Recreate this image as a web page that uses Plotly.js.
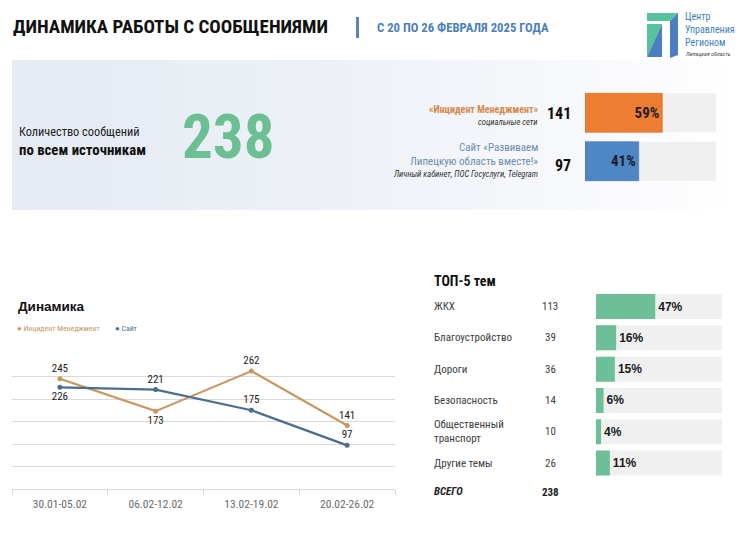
<!DOCTYPE html>
<html>
<head>
<meta charset="utf-8">
<script src="https://cdn.plot.ly/plotly-3.0.1.min.js"></script>
<style>
html,body{margin:0;padding:0;background:#fff;}
#chart{width:746px;height:559px;}
</style>
</head>
<body>
<div id="chart"></div>
<script>
// ---------- DATA ----------
const reportTitle = 'ДИНАМИКА РАБОТЫ С СООБЩЕНИЯМИ';
const reportPeriod = 'С 20 ПО 26 ФЕВРАЛЯ 2025 ГОДА';
const totalMessages = 238;

const sourceKeys = ['Инцидент Менеджмент', 'Сайт'];
const sourceTitles = ['«Инцидент Менеджмент»', 'Сайт «Развиваем<br>Липецкую область вместе!»'];
const sourceSubtitles = ['социальные сети', 'Личный кабинет, ПОС Госуслуги, Telegram'];
const sourceCounts = [141, 97];
const sourcePct = [59, 41];

const weeks = ['30.01-05.02', '06.02-12.02', '13.02-19.02', '20.02-26.02'];
const incidentSeries = [245, 173, 262, 141];
const siteSeries = [226, 221, 175, 97];

const topicNames = ['ЖКХ', 'Благоустройство', 'Дороги', 'Безопасность', 'Общественный<br>транспорт', 'Другие темы'];
const topicCounts = [113, 39, 36, 14, 10, 26];
const topicPct = [47, 16, 15, 6, 4, 11];

// ---------- HELPERS ----------
const W = 746, H = 559;
const NARROW = '"Liberation Sans Narrow", "Arial Narrow", "Roboto Condensed", sans-serif';
const SANS = '"Liberation Sans", Arial, sans-serif';
function px(x) { return x / W; }
function py(y) { return 1 - y / H; }
function ann(text, x, y, size, color, o) {
  o = o || {};
  return {
    text: text, x: px(x), y: o.yref ? o.yv : py(y),
    xref: 'paper', yref: o.yref || 'paper', showarrow: false,
    xanchor: o.xa || 'left', yanchor: o.ya || 'middle', align: o.align || (o.xa || 'left'),
    yshift: o.ys || 0,
    font: { family: o.family || NARROW, size: size, color: color, weight: o.weight || 'normal', style: o.style || 'normal' }
  };
}
function polyPath(pts) {
  return 'M' + pts.map(p => px(p[0]) + ',' + py(p[1])).join(' L') + ' Z';
}

const ORANGE = '#ed7d31', BLUE = '#4f86c6', GREY = '#f0f0f0', GREEN = '#6dbf97';
const LINE_OR = '#c9975e', LINE_BL = '#4c6d8d';

// ---------- TRACES ----------
const traces = [];
traces.push({
  type: 'bar', orientation: 'h', xaxis: 'x', yaxis: 'y',
  y: sourceKeys, x: sourceKeys.map(() => 100), width: 0.806,
  marker: { color: GREY }, hoverinfo: 'skip', showlegend: false
});
traces.push({
  type: 'bar', orientation: 'h', xaxis: 'x', yaxis: 'y',
  y: sourceKeys, x: sourcePct, width: 0.806,
  marker: { color: [ORANGE, BLUE], line: { color: ['#d46a1f', '#3f72ad'], width: 0.6 } },
  text: sourcePct.map(v => v + '%'), textposition: 'inside', insidetextanchor: 'end',
  textfont: { family: NARROW, size: 15, color: '#1d1d2b', weight: 'bold' },
  constraintext: 'none', showlegend: false
});
traces.push({
  type: 'scatter', mode: 'lines+markers+text', xaxis: 'x2', yaxis: 'y2',
  x: weeks, y: incidentSeries, name: 'Инцидент Менеджмент',
  line: { color: LINE_OR, width: 2.2 }, marker: { color: LINE_OR, size: 5 },
  text: incidentSeries.map(String),
  textposition: ['top center', 'bottom center', 'top center', 'top center'],
  textfont: { family: NARROW, size: 11, color: '#222' }, cliponaxis: false, showlegend: false
});
traces.push({
  type: 'scatter', mode: 'lines+markers+text', xaxis: 'x2', yaxis: 'y2',
  x: weeks, y: siteSeries, name: 'Сайт',
  line: { color: LINE_BL, width: 2.2 }, marker: { color: LINE_BL, size: 5 },
  text: siteSeries.map(String),
  textposition: ['bottom center', 'top center', 'top center', 'top center'],
  textfont: { family: NARROW, size: 11, color: '#222' }, cliponaxis: false, showlegend: false
});
traces.push({
  type: 'bar', orientation: 'h', xaxis: 'x3', yaxis: 'y3',
  y: topicNames, x: topicNames.map(() => 100), width: 0.8,
  marker: { color: GREY }, hoverinfo: 'skip', showlegend: false
});
traces.push({
  type: 'bar', orientation: 'h', xaxis: 'x3', yaxis: 'y3',
  y: topicNames, x: topicPct, width: 0.8,
  marker: { color: GREEN },
  text: topicPct.map(v => v + '%'), textposition: 'outside', cliponaxis: false,
  textfont: { family: SANS, size: 12, color: '#1a1a1a', weight: 'bold' },
  showlegend: false
});

// ---------- ANNOTATIONS ----------
const annotations = [];
annotations.push(ann(reportTitle, 11, 27, 19, '#111', { weight: 'bold' }));
annotations.push(ann(reportPeriod, 375, 28, 12.7, '#4b7fbd', { weight: 'bold' }));
annotations.push(ann('Центр<br>Управления<br>Регионом', 683, 9, 10, '#3f7fc0', { ya: 'top' }));
annotations.push(ann('Липецкая область', 683, 54, 6, '#444', { style: 'italic' }));

annotations.push(ann('Количество сообщений', 17, 132, 12.3, '#222'));
annotations.push(ann('по всем источникам', 17, 150, 14.8, '#111', { weight: 'bold' }));
annotations.push(ann(String(totalMessages), 228, 137, 61, '#6cbf93', { weight: 'bold', xa: 'center' }));

// layout positions (px) of text lines beside each source bar
const srcTitleY = [[109], [147, 161]];
const srcSubY = [122, 174];
const srcCountY = [113, 165];
const srcTitleColors = ['#d5894c', '#6a8eab'];
const srcTitleWeights = ['bold', 'normal'];
const srcTitleSizes = [10, 11];
sourceKeys.forEach((k, i) => {
  sourceTitles[i].split('<br>').forEach((line, j) => {
    annotations.push(ann(line, 540, srcTitleY[i][j], srcTitleSizes[i], srcTitleColors[i], { xa: 'right', weight: srcTitleWeights[i] }));
  });
  annotations.push(ann(sourceSubtitles[i], 540, srcSubY[i], 8.5, '#333', { xa: 'right', style: 'italic' }));
  annotations.push(ann(String(sourceCounts[i]), 573, srcCountY[i], 16, '#111', { xa: 'right', weight: 'bold' }));
});

annotations.push(ann('Динамика', 16, 306, 13.5, '#111', { family: SANS, weight: 'bold' }));
annotations.push(ann('● ' + sourceKeys[0], 15, 328, 7.8, LINE_OR));
annotations.push(ann('● ' + sourceKeys[1], 113, 328, 7.8, LINE_BL));

annotations.push(ann('ТОП-5 тем', 432, 281, 14, '#111', { weight: 'bold' }));
topicNames.forEach((t, i) => {
  annotations.push(ann(t, 432, 0, 11, '#404040', { yref: 'y3', yv: t }));
  annotations.push(ann(String(topicCounts[i]), 550, 0, 11, '#404040', { yref: 'y3', yv: t, xa: 'center' }));
});
annotations.push(ann('ВСЕГО', 432, 491, 11, '#222', { weight: 'bold', style: 'italic' }));
annotations.push(ann(String(totalMessages), 550, 492, 11, '#222', { weight: 'bold', xa: 'center' }));

// ---------- SHAPES / IMAGES ----------
const LOGO_G = '#57c39c', LOGO_B = '#4a7fc1';
const shapes = [
  { type: 'rect', xref: 'paper', yref: 'paper', x0: px(356), x1: px(359), y0: py(17), y1: py(38), fillcolor: '#5b84b1', line: { width: 0 } },
  { type: 'path', xref: 'paper', yref: 'paper', path: polyPath([[647, 13], [678, 13], [670, 21], [647, 21]]), fillcolor: LOGO_G, line: { width: 0 } },
  { type: 'path', xref: 'paper', yref: 'paper', path: polyPath([[670, 21], [678, 13], [678, 55], [670, 58]]), fillcolor: LOGO_B, line: { width: 0 } },
  { type: 'path', xref: 'paper', yref: 'paper', path: polyPath([[647, 24], [662, 24], [647, 57]]), fillcolor: LOGO_G, line: { width: 0 } },
  { type: 'path', xref: 'paper', yref: 'paper', path: polyPath([[662, 24], [662, 57], [647, 57]]), fillcolor: LOGO_B, line: { width: 0 } }
];

const gradSvg = '<svg xmlns="http://www.w3.org/2000/svg" width="720" height="150" preserveAspectRatio="none" viewBox="0 0 720 150">' +
  '<defs><linearGradient id="g" x1="0" y1="0" x2="1" y2="0">' +
  '<stop offset="0" stop-color="#e5eaf3"/><stop offset="0.45" stop-color="#edf1f7"/>' +
  '<stop offset="0.8" stop-color="#f8f9fc"/><stop offset="1" stop-color="#ffffff"/></linearGradient></defs>' +
  '<rect width="720" height="150" fill="url(#g)"/></svg>';
const images = [{
  source: 'data:image/svg+xml;charset=utf-8,' + encodeURIComponent(gradSvg),
  xref: 'paper', yref: 'paper', x: px(12), y: py(60), sizex: px(734) - px(12), sizey: 150 / H,
  sizing: 'stretch', xanchor: 'left', yanchor: 'top', layer: 'below'
}];

// ---------- LAYOUT ----------
const layout = {
  width: W, height: H, margin: { l: 0, r: 0, t: 0, b: 0 },
  paper_bgcolor: '#ffffff', plot_bgcolor: 'rgba(0,0,0,0)',
  barmode: 'overlay', showlegend: false,
  xaxis: { domain: [px(585), px(716)], range: [0, 100], visible: false, fixedrange: true },
  yaxis: { domain: [py(185.4), py(88.6)], type: 'category', autorange: 'reversed', visible: false, anchor: 'x' },
  xaxis2: {
    domain: [px(12), px(395)], type: 'category', anchor: 'y2', range: [-0.5, 3.5], autorange: false,
    showline: true, linecolor: '#d9d9d9', linewidth: 1,
    ticks: 'outside', tickson: 'boundaries', ticklen: 5, tickcolor: '#d9d9d9',
    ticklabelstandoff: 4,
    showgrid: false, tickfont: { family: NARROW, size: 11.5, color: '#6a6a6a' }
  },
  yaxis2: {
    domain: [py(489), py(354)], range: [0, 300], dtick: 50, anchor: 'x2',
    showgrid: true, gridcolor: '#d9d9d9', gridwidth: 1, zeroline: false, showticklabels: false, ticks: ''
  },
  xaxis3: { domain: [px(596), px(722)], range: [0, 100], visible: false, anchor: 'y3' },
  yaxis3: { domain: [py(478.7), py(290.9)], type: 'category', autorange: 'reversed', visible: false, anchor: 'x3' },
  annotations: annotations, shapes: shapes, images: images
};

Plotly.newPlot('chart', traces, layout, { displayModeBar: false, staticPlot: true });
</script>
</body>
</html>
